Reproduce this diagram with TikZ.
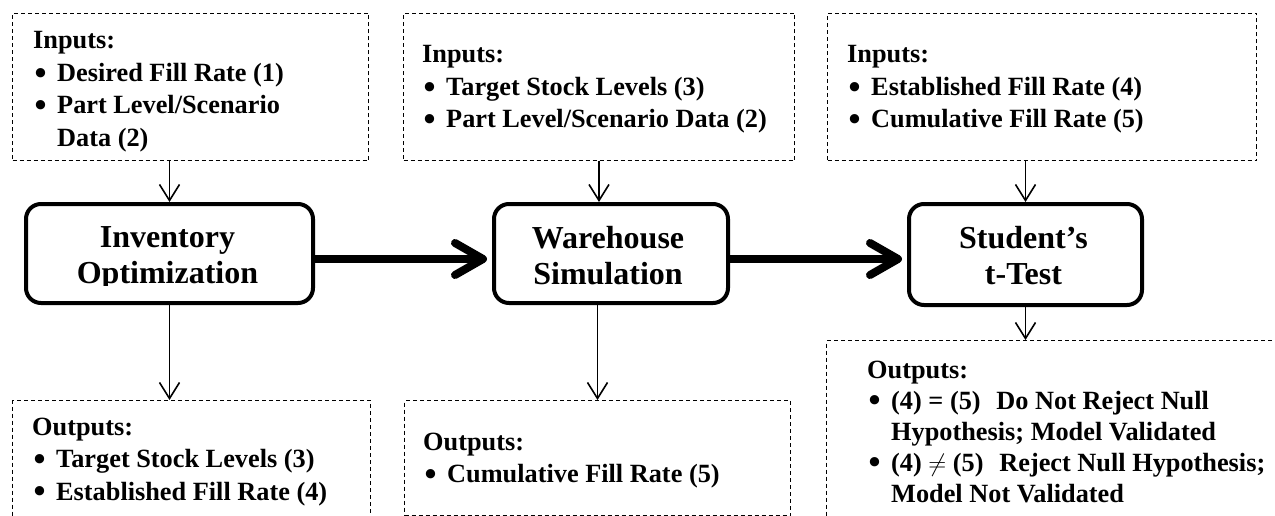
\documentclass[tikz,border=0pt]{standalone}
\usepackage{fontspec}
\setmainfont{Liberation Serif}
\usetikzlibrary{arrows.meta}
\newcommand{\itm}{\makebox[24pt][l]{\hspace{1.5pt}\raisebox{-2.6pt}{\scalebox{1.3}{\textbullet}}}}
\newcommand{\ind}{\hspace*{24pt}}
\begin{document}
\begin{tikzpicture}[x=1pt,y=-1pt,
  dbox/.style={draw, dash pattern=on 4pt off 3pt, line width=1pt, inner sep=0pt, anchor=north west},
  pbox/.style={draw, line width=4pt, rounded corners=15pt, inner sep=0pt, anchor=north west},
  txt/.style={inner sep=0pt, anchor=base west, align=left, font=\bfseries\fontsize{26.3}{32.5}\selectfont},
  btxt/.style={inner sep=0pt, anchor=base, font=\bfseries\fontsize{32}{36}\selectfont},
  thinarrow/.style={line width=1.6pt, -{Straight Barb[length=16pt,width=20pt]}},
  thickarrow/.style={line width=8pt, -{Straight Barb[length=28pt,width=32pt,round]}}]
\useasboundingbox (0,0) rectangle (1275,516);
\fill[white] (0,0) rectangle (1275,516);
\clip (0,0) rectangle (1275,516);

% input boxes
\node[dbox, minimum width=356pt, minimum height=147pt] (in1) at (12,13) {};
\node[dbox, minimum width=391pt, minimum height=147pt] (in2) at (403,13) {};
\node[dbox, minimum width=429pt, minimum height=147pt] (in3) at (827,13) {};

% output boxes
\node[dbox, minimum width=358pt, minimum height=160pt] (out1) at (12,400) {};
\node[dbox, minimum width=386pt, minimum height=115pt] (out2) at (404,400) {};
\node[dbox, minimum width=480pt, minimum height=220pt] (out3) at (826,340) {};

% process boxes
\node[pbox, minimum width=287pt, minimum height=99pt] (inv) at (24,202) {};
\node[pbox, minimum width=234pt, minimum height=99pt] (wh) at (492,202) {};
\node[pbox, minimum width=233pt, minimum height=101pt] (st) at (907,202) {};

% process texts
\begin{scope}
\clip (0,0) rectangle (1275,285);
\node[btxt] (invt) at (167.5,247) {\begin{tabular}[t]{@{}c@{}}Inventory\\Optimization\end{tabular}};
\end{scope}
\node[btxt] (wht) at (608,248) {\begin{tabular}[t]{@{}c@{}}Warehouse\\Simulation\end{tabular}};
\node[btxt] (stt) at (1023.5,248) {\begin{tabular}[t]{@{}c@{}}Student’s\\t-Test\end{tabular}};

% input texts
\node[txt] (in1t) at (33,49) {\begin{tabular}[t]{@{}l@{}}Inputs:\\\itm Desired Fill Rate (1)\\\itm Part Level/Scenario\\\ind Data (2)\end{tabular}};
\node[txt] (in2t) at (422,63) {\begin{tabular}[t]{@{}l@{}}Inputs:\\\itm Target Stock Levels (3)\\\itm Part Level/Scenario Data (2)\end{tabular}};
\node[txt] (in3t) at (847,63) {\begin{tabular}[t]{@{}l@{}}Inputs:\\\itm Established Fill Rate (4)\\\itm Cumulative Fill Rate (5)\end{tabular}};

% output texts
\node[txt] (out1t) at (32,435) {\begin{tabular}[t]{@{}l@{}}Outputs:\\\itm Target Stock Levels (3)\\\itm Established Fill Rate (4)\end{tabular}};
\node[txt] (out2t) at (423,450) {\begin{tabular}[t]{@{}l@{}}Outputs:\\\itm Cumulative Fill Rate (5)\end{tabular}};
\node[txt, font=\bfseries\fontsize{26.3}{31}\selectfont] (out3t) at (867,378) {\begin{tabular}[t]{@{}l@{}}Outputs:\\\itm (4) = (5)\hspace{0.6em}Do Not Reject Null\\\ind Hypothesis; Model Validated\\\itm (4) $\neq$ (5)\hspace{0.6em}Reject Null Hypothesis;\\\ind Model Not Validated\end{tabular}};

% thin arrows
\draw[thinarrow] (in1.south -| inv.north) -- (inv.north);
\draw[thinarrow] (in2.south) -- (in2.south |- wh.north);
\draw[thinarrow] (in3.south -| st.north) -- (st.north);
\draw[thinarrow] (inv.south) -- (inv.south |- out1.north);
\draw[thinarrow] (out2.north |- wh.south) -- (out2.north);
\draw[thinarrow] (st.south) -- (st.south |- out3.north);

% thick arrows
\coordinate (ya) at (0,259);
\draw[thickarrow, shorten >=5pt] (inv.east |- ya) -- (wh.west |- ya);
\draw[thickarrow, shorten >=5pt] (wh.east |- ya) -- (st.west |- ya);
\end{tikzpicture}
\end{document}
